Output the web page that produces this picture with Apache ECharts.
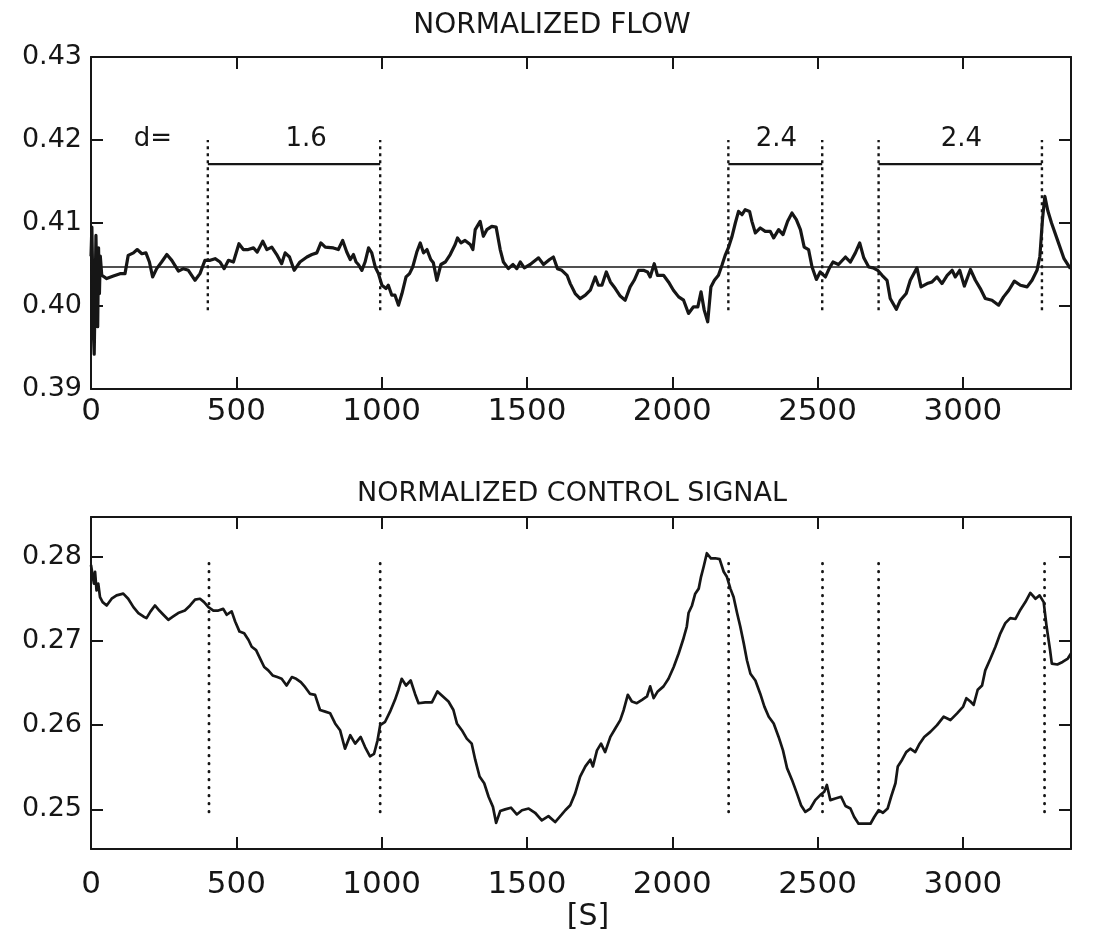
<!DOCTYPE html>
<html><head><meta charset="utf-8">
<script src="https://cdn.jsdelivr.net/npm/echarts@6/dist/echarts.min.js"></script>
<style>html,body{margin:0;padding:0;background:#fff}#c{width:1095px;height:936px}</style>
</head><body><div id="c"></div>
<script>
// ---------- data (seconds, normalized units) ----------
const xTicks = [0, 500, 1000, 1500, 2000, 2500, 3000];
const flowTicks = [0.39, 0.40, 0.41, 0.42, 0.43];
const controlTicks = [0.25, 0.26, 0.27, 0.28];
const xMax = 3372;
const flowRange = [0.39, 0.43];
const controlRange = [0.2453, 0.2847];

const flowTime = [0,3,6,9,11,14,17,20,23,26,
29,32,37,54,77,100,117,128,146,159,
175,189,201,212,226,243,261,278,301,318,
335,358,375,392,410,427,444,458,473,490,
509,524,541,559,572,591,605,622,639,656,
668,683,699,719,743,760,777,791,806,834,
851,866,880,892,903,912,920,932,943,955,
966,978,989,1001,1015,1023,1035,1046,1058,1070,
1084,1096,1107,1121,1133,1144,1156,1169,1178,1190,
1204,1219,1236,1253,1261,1273,1287,1305,1314,1322,
1339,1350,1362,1379,1394,1408,1419,1436,1452,1465,
1477,1491,1511,1540,1557,1578,1591,1605,1620,1638,
1649,1666,1683,1701,1718,1735,1746,1758,1773,1787,
1804,1821,1838,1855,1869,1884,1901,1915,1924,1938,
1949,1970,1987,2004,2022,2039,2056,2073,2088,2099,
2110,2122,2133,2145,2159,2171,2182,2194,2205,2217,
2228,2240,2251,2266,2274,2286,2303,2320,2337,2349,
2366,2381,2397,2412,2427,2441,2454,2469,2481,2496,
2509,2527,2541,2553,2572,2596,2613,2630,2645,2659,
2676,2691,2707,2722,2739,2750,2771,2785,2805,2819,
2842,2856,2877,2894,2911,2928,2946,2963,2974,2989,
3005,3026,3043,3060,3077,3100,3123,3140,3158,3177,
3198,3221,3238,3255,3265,3274,3282,3292,3305,3325,
3348,3370];
const flowValue = [0.4060,0.4095,0.4030,0.3960,0.3942,0.4010,0.4085,0.4030,0.3975,0.4070,
0.4015,0.4060,0.4037,0.4033,0.4036,0.4039,0.4039,0.4061,0.4064,0.4068,
0.4063,0.4064,0.4053,0.4035,0.4045,0.4053,0.4062,0.4055,0.4042,0.4045,
0.4043,0.4031,0.4039,0.4055,0.4055,0.4057,0.4053,0.4045,0.4055,0.4053,
0.4075,0.4068,0.4068,0.4070,0.4065,0.4078,0.4068,0.4071,0.4062,0.4051,
0.4064,0.4059,0.4043,0.4053,0.4059,0.4062,0.4064,0.4076,0.4071,0.4070,
0.4068,0.4079,0.4065,0.4056,0.4062,0.4053,0.4050,0.4043,0.4053,0.4070,
0.4064,0.4047,0.4039,0.4025,0.4021,0.4025,0.4013,0.4013,0.4001,0.4015,
0.4035,0.4039,0.4047,0.4065,0.4076,0.4064,0.4068,0.4056,0.4052,0.4031,
0.4050,0.4053,0.4062,0.4074,0.4082,0.4076,0.4079,0.4074,0.4068,0.4092,
0.4102,0.4084,0.4092,0.4096,0.4095,0.4068,0.4053,0.4045,0.4050,0.4045,
0.4053,0.4046,0.4050,0.4058,0.4050,0.4056,0.4059,0.4045,0.4043,0.4037,
0.4027,0.4015,0.4009,0.4013,0.4019,0.4035,0.4025,0.4025,0.4041,0.4029,
0.4021,0.4012,0.4007,0.4023,0.4031,0.4043,0.4043,0.4041,0.4035,0.4051,
0.4037,0.4037,0.4029,0.4019,0.4011,0.4007,0.3991,0.3999,0.3999,0.4017,
0.3995,0.3981,0.4023,0.4031,0.4037,0.4049,0.4061,0.4071,0.4083,0.4100,
0.4114,0.4110,0.4116,0.4114,0.4102,0.4088,0.4094,0.4090,0.4090,0.4082,
0.4092,0.4086,0.4102,0.4112,0.4104,0.4092,0.4071,0.4068,0.4047,0.4032,
0.4041,0.4035,0.4046,0.4053,0.4050,0.4059,0.4053,0.4064,0.4076,0.4058,
0.4047,0.4046,0.4043,0.4037,0.4031,0.4009,0.3996,0.4007,0.4015,0.4031,
0.4046,0.4023,0.4027,0.4029,0.4035,0.4027,0.4037,0.4043,0.4035,0.4043,
0.4024,0.4044,0.4031,0.4021,0.4009,0.4007,0.4001,0.4011,0.4019,0.4030,
0.4025,0.4023,0.4031,0.4043,0.4060,0.4105,0.4132,0.4115,0.4100,0.4080,
0.4057,0.4045];

const controlTime = [0,4,10,14,19,25,31,40,54,71,
88,111,128,146,163,180,191,205,220,235,
249,266,283,300,323,341,358,375,389,404,
421,438,455,467,484,496,511,527,542,553,
568,582,596,610,625,641,656,673,691,706,
722,737,754,771,788,806,823,840,857,874,
892,909,928,943,960,974,986,995,1012,1029,
1046,1058,1069,1084,1100,1115,1127,1150,1173,1192,
1211,1230,1247,1259,1276,1293,1310,1322,1337,1353,
1368,1383,1394,1408,1425,1445,1465,1483,1506,1528,
1551,1574,1597,1620,1632,1649,1666,1683,1701,1718,
1727,1741,1755,1769,1787,1804,1821,1833,1847,1861,
1878,1896,1913,1924,1936,1950,1970,1987,2005,2022,
2037,2050,2056,2068,2079,2091,2099,2108,2119,2133,
2148,2163,2177,2188,2200,2211,2223,2234,2246,2257,
2269,2286,2303,2317,2332,2349,2366,2381,2395,2412,
2429,2443,2458,2475,2492,2509,2523,2532,2544,2561,
2581,2596,2613,2626,2641,2659,2682,2695,2710,2725,
2741,2753,2768,2776,2791,2805,2819,2836,2851,2867,
2888,2911,2934,2957,2980,3001,3012,3026,3037,3051,
3066,3077,3095,3112,3129,3146,3163,3181,3198,3215,
3232,3250,3264,3278,3288,3300,3306,3325,3343,3361,
3372];
const controlValue = [0.2790,0.2788,0.2768,0.2782,0.2760,0.2768,0.2752,0.2746,0.2742,0.2750,
0.2754,0.2756,0.2750,0.2740,0.2733,0.2729,0.2727,0.2735,0.2742,0.2736,
0.2731,0.2725,0.2729,0.2733,0.2736,0.2742,0.2749,0.2750,0.2746,0.2740,
0.2736,0.2736,0.2738,0.2731,0.2735,0.2723,0.2711,0.2709,0.2701,0.2693,
0.2689,0.2679,0.2669,0.2665,0.2659,0.2657,0.2655,0.2647,0.2657,0.2655,
0.2651,0.2645,0.2637,0.2636,0.2618,0.2616,0.2614,0.2602,0.2594,0.2572,
0.2588,0.2578,0.2586,0.2574,0.2563,0.2566,0.2582,0.2600,0.2604,0.2616,
0.2630,0.2642,0.2655,0.2647,0.2653,0.2637,0.2626,0.2627,0.2627,0.2640,
0.2634,0.2628,0.2618,0.2602,0.2594,0.2584,0.2578,0.2559,0.2539,0.2531,
0.2515,0.2503,0.2484,0.2498,0.2500,0.2502,0.2494,0.2499,0.2501,0.2496,
0.2487,0.2492,0.2485,0.2494,0.2499,0.2505,0.2519,0.2539,0.2551,0.2559,
0.2551,0.2570,0.2578,0.2568,0.2586,0.2596,0.2606,0.2618,0.2636,0.2628,
0.2626,0.2630,0.2634,0.2646,0.2632,0.2640,0.2646,0.2655,0.2669,0.2685,
0.2701,0.2717,0.2733,0.2742,0.2756,0.2762,0.2776,0.2788,0.2804,0.2798,
0.2798,0.2797,0.2782,0.2776,0.2762,0.2752,0.2733,0.2717,0.2697,0.2677,
0.2661,0.2653,0.2637,0.2622,0.2610,0.2602,0.2586,0.2570,0.2549,0.2535,
0.2519,0.2505,0.2497,0.2501,0.2511,0.2517,0.2521,0.2529,0.2511,0.2513,
0.2515,0.2504,0.2501,0.2491,0.2483,0.2483,0.2483,0.2491,0.2499,0.2496,
0.2501,0.2515,0.2531,0.2551,0.2559,0.2568,0.2572,0.2568,0.2578,0.2586,
0.2592,0.2600,0.2610,0.2606,0.2614,0.2622,0.2632,0.2628,0.2624,0.2642,
0.2647,0.2665,0.2679,0.2693,0.2709,0.2721,0.2727,0.2726,0.2737,0.2746,
0.2757,0.2750,0.2754,0.2746,0.2717,0.2689,0.2673,0.2672,0.2675,0.2679,
0.2685];

const flowReference = 0.4047;
const flowMarkerTimes = [402, 995, 2193, 2516, 2710, 3272];
const flowMarkerSpan = [0.3995, 0.4200];
const controlMarkerTimes = [406, 995, 2194, 2517, 2710, 3281];
const controlMarkerSpan = [0.2497, 0.2795];
const bracketStart = [402, 2193, 2710];
const bracketEnd = [995, 2516, 3272];
const bracketLevel = 0.4171;
const annotationTimes = [213, 740, 2358, 2995];
const annotationTexts = ['d=', '1.6', '2.4', '2.4'];
const annotationLevel = 0.4201;

// ---------- chart ----------
const FONT = 'DejaVu Sans';
const INK = '#161616';
const chart = echarts.init(document.getElementById('c'), null, {renderer: 'canvas'});

function xAxis(grid, position, labelMargin) {
  const withLabels = position === 'bottom';
  return {
    type: 'value', gridIndex: grid, position: position, min: 0, max: xMax,
    axisLine: {show: true, onZero: false, lineStyle: {color: INK, width: 2}},
    axisTick: {show: true, inside: true, length: 12, customValues: xTicks,
      lineStyle: {color: INK, width: 2}},
    axisLabel: {show: withLabels, customValues: xTicks, margin: labelMargin,
      fontFamily: FONT, fontSize: 31, color: INK, formatter: v => String(v)},
    splitLine: {show: false}
  };
}
function yAxis(grid, position, range, ticks) {
  const withLabels = position === 'left';
  return {
    type: 'value', gridIndex: grid, position: position, min: range[0], max: range[1],
    axisLine: {show: true, onZero: false, lineStyle: {color: INK, width: 2}},
    axisTick: {show: true, inside: true, length: 12, customValues: ticks,
      lineStyle: {color: INK, width: 2}},
    axisLabel: {show: withLabels, customValues: ticks, margin: 9,
      fontFamily: FONT, fontSize: 27, color: INK,
      formatter: v => Number(v).toFixed(2)},
    splitLine: {show: false}
  };
}

const series = [];
// flow panel
series.push({
  type: 'line', xAxisIndex: 0, yAxisIndex: 0, showSymbol: false, z: 5,
  data: flowTime.map((t, i) => [t, flowValue[i]]),
  lineStyle: {color: INK, width: 3.2, join: 'round'}
});
series.push({
  type: 'line', xAxisIndex: 0, yAxisIndex: 0, showSymbol: false, z: 4,
  data: [[0, flowReference], [xMax, flowReference]],
  lineStyle: {color: INK, width: 1.6}
});
flowMarkerTimes.forEach(t => series.push({
  type: 'line', xAxisIndex: 0, yAxisIndex: 0, showSymbol: false, z: 3,
  data: [[t, flowMarkerSpan[0]], [t, flowMarkerSpan[1]]],
  lineStyle: {color: INK, width: 2.4, type: [3, 4]}
}));
bracketStart.forEach((s, i) => series.push({
  type: 'line', xAxisIndex: 0, yAxisIndex: 0, showSymbol: false, z: 3,
  data: [[s, bracketLevel], [bracketEnd[i], bracketLevel]],
  lineStyle: {color: INK, width: 2.2}
}));
series.push({
  type: 'scatter', xAxisIndex: 0, yAxisIndex: 0, symbolSize: 0, z: 6,
  itemStyle: {color: INK},
  data: annotationTimes.map((t, i) => ({value: [t, annotationLevel], name: annotationTexts[i]})),
  label: {show: true, position: 'inside', formatter: p => p.name,
    fontFamily: FONT, fontSize: 26, color: INK, textBorderWidth: 0, opacity: 1}
});
// control panel
series.push({
  type: 'line', xAxisIndex: 2, yAxisIndex: 2, showSymbol: false, z: 5,
  data: controlTime.map((t, i) => [t, controlValue[i]]),
  lineStyle: {color: INK, width: 2.7, join: 'round'}
});
controlMarkerTimes.forEach(t => series.push({
  type: 'line', xAxisIndex: 2, yAxisIndex: 2, showSymbol: false, z: 3,
  data: [[t, controlMarkerSpan[0]], [t, controlMarkerSpan[1]]],
  lineStyle: {color: INK, width: 2.8, type: [0.5, 7.5], cap: 'round'}
}));

chart.setOption({
  animation: false,
  backgroundColor: '#ffffff',
  grid: [
    {left: 91, top: 57, width: 980, height: 332},
    {left: 91, top: 517, width: 980, height: 332}
  ],
  xAxis: [xAxis(0, 'bottom', 7), xAxis(0, 'top', 8), xAxis(1, 'bottom', 20), xAxis(1, 'top', 8)],
  yAxis: [yAxis(0, 'left', flowRange, flowTicks), yAxis(0, 'right', flowRange, flowTicks),
          yAxis(1, 'left', controlRange, controlTicks), yAxis(1, 'right', controlRange, controlTicks)],
  graphic: [
    {type: 'text', x: 552, y: 26, style: {text: 'NORMALIZED FLOW', font: '28px "DejaVu Sans"',
      fill: INK, align: 'center', verticalAlign: 'middle'}},
    {type: 'text', x: 572, y: 494, style: {text: 'NORMALIZED CONTROL SIGNAL', font: '27px "DejaVu Sans"',
      fill: INK, align: 'center', verticalAlign: 'middle'}},
    {type: 'text', x: 588, y: 917, style: {text: '[S]', font: '30px "DejaVu Sans"',
      fill: INK, align: 'center', verticalAlign: 'middle'}}
  ],
  series: series
});
</script></body></html>
